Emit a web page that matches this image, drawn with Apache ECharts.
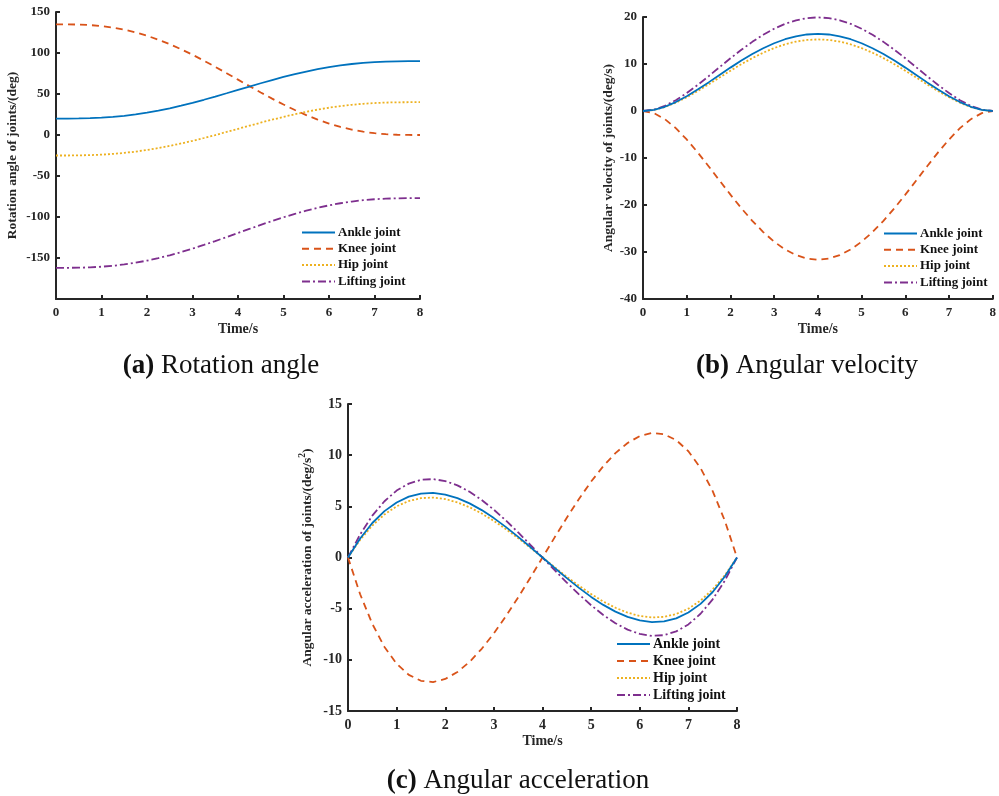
<!DOCTYPE html>
<html>
<head>
<meta charset="utf-8">
<script src="https://cdn.jsdelivr.net/npm/echarts@6/dist/echarts.min.js"></script>
<style>
html,body{margin:0;padding:0;background:#fff;}
#main{width:999px;height:796px;}
</style>
</head>
<body>
<div id="main"></div>
<script>
// Time samples (s)
const time = [0,0.25,0.5,0.75,1,1.25,1.5,1.75,2,2.25,2.5,2.75,3,3.25,3.5,3.75,4,
              4.25,4.5,4.75,5,5.25,5.5,5.75,6,6.25,6.5,6.75,7,7.25,7.5,7.75,8];
const seriesNames = ['Ankle joint','Knee joint','Hip joint','Lifting joint'];

// (a) Rotation angle (deg)
const angleAnkle = [20,20.02,20.16,20.50,21.12,22.08,23.41,25.13,27.25,29.74,32.60,35.79,39.26,42.98,46.88,50.91,55,
                    59.09,63.12,67.02,70.74,74.21,77.40,80.26,82.75,84.87,86.59,87.92,88.88,89.50,89.84,89.98,90];
const angleKnee = [135,134.96,134.70,134.04,132.83,130.98,128.42,125.10,121.03,116.21,110.70,104.55,97.85,90.68,83.16,75.39,67.5,
                   59.61,51.84,44.32,37.15,30.45,24.30,18.79,13.98,9.90,6.58,4.02,2.17,0.96,0.30,0.04,0];
const angleHip = [-25,-24.98,-24.86,-24.54,-23.96,-23.07,-21.83,-20.23,-18.27,-15.95,-13.30,-10.34,-7.11,-3.66,-0.04,3.70,7.5,
                  11.30,15.04,18.66,22.11,25.34,28.30,30.95,33.27,35.23,36.83,38.07,38.96,39.54,39.86,39.98,40];
const angleLifting = [-162,-161.98,-161.81,-161.39,-160.64,-159.47,-157.86,-155.77,-153.20,-150.17,-146.70,-142.83,-138.61,-134.10,-129.36,-124.47,-119.5,
                      -114.53,-109.64,-104.91,-100.39,-96.17,-92.30,-88.83,-85.80,-83.23,-81.15,-79.53,-78.36,-77.61,-77.19,-77.03,-77];

// (b) Angular velocity (deg/s)
const velAnkle = [0,0.24,0.90,1.90,3.14,4.56,6.09,7.67,9.23,10.73,12.12,13.36,14.42,15.27,15.90,16.28,16.41,
                  16.28,15.90,15.27,14.42,13.36,12.12,10.73,9.23,7.67,6.09,4.56,3.14,1.90,0.90,0.24,0];
const velKnee = [0,-0.46,-1.74,-3.65,-6.06,-8.80,-11.75,-14.79,-17.80,-20.69,-23.37,-25.76,-27.81,-29.46,-30.66,-31.39,-31.64,
                 -31.39,-30.66,-29.46,-27.81,-25.76,-23.37,-20.69,-17.80,-14.79,-11.75,-8.80,-6.06,-3.65,-1.74,-0.46,0];
const velHip = [0,0.22,0.84,1.76,2.92,4.24,5.66,7.12,8.57,9.96,11.25,12.40,13.39,14.18,14.76,15.12,15.23,
                15.12,14.76,14.18,13.39,12.40,11.25,9.96,8.57,7.12,5.66,4.24,2.92,1.76,0.84,0.22,0];
const velLifting = [0,0.29,1.09,2.30,3.81,5.54,7.40,9.31,11.21,13.03,14.71,16.22,17.51,18.55,19.30,19.77,19.92,
                    19.77,19.30,18.55,17.51,16.22,14.71,13.03,11.21,9.31,7.40,5.54,3.81,2.30,1.09,0.29,0];

// (c) Angular acceleration (deg/s^2)
const accAnkle = [0,1.86,3.37,4.53,5.38,5.95,6.25,6.31,6.15,5.80,5.29,4.63,3.85,2.97,2.02,1.02,0,
                  -1.02,-2.02,-2.97,-3.85,-4.63,-5.29,-5.80,-6.15,-6.31,-6.25,-5.95,-5.38,-4.53,-3.37,-1.86,0];
const accKnee = [0,-3.59,-6.49,-8.74,-10.38,-11.47,-12.05,-12.17,-11.87,-11.19,-10.20,-8.92,-7.42,-5.72,-3.89,-1.97,0,
                 1.97,3.89,5.72,7.42,8.92,10.20,11.19,11.87,12.17,12.05,11.47,10.38,8.74,6.49,3.59,0];
const accHip = [0,1.73,3.12,4.21,5.00,5.52,5.80,5.86,5.71,5.39,4.91,4.30,3.57,2.76,1.88,0.95,0,
                -0.95,-1.88,-2.76,-3.57,-4.30,-4.91,-5.39,-5.71,-5.86,-5.80,-5.52,-5.00,-4.21,-3.12,-1.73,0];
const accLifting = [0,2.26,4.09,5.50,6.54,7.22,7.59,7.66,7.47,7.05,6.42,5.62,4.67,3.60,2.45,1.24,0,
                    -1.24,-2.45,-3.60,-4.67,-5.62,-6.42,-7.05,-7.47,-7.66,-7.59,-7.22,-6.54,-5.50,-4.09,-2.26,0];

const colors = ['#0072BD','#D95319','#EDB120','#7E2F8E'];
const dashes = ['solid',[7,5],[2,2],[8,3,2,3]];
const FONT = 'Liberation Serif, Times New Roman, serif';
const AX = '#262626';

function pairs(arr){ return time.map((t,i)=>[t,arr[i]]); }

function xAxis(gi, fs){
  return {
    type:'value', gridIndex:gi, min:0, max:8, interval:1,
    name:'Time/s', nameLocation:'middle', nameGap:23,
    nameTextStyle:{fontFamily:FONT, fontWeight:'bold', fontSize:14, color:AX},
    axisLine:{onZero:false, lineStyle:{color:AX, width:2}},
    axisTick:{inside:true, length:4, lineStyle:{color:AX, width:2}},
    axisLabel:{fontFamily:FONT, fontWeight:'bold', fontSize:fs, color:AX, margin:7},
    splitLine:{show:false}
  };
}
function yAxis(gi, min, max, interval, name, gap, fs, hideMin){
  return {
    type:'value', gridIndex:gi, min:min, max:max, interval:interval,
    name:name, nameLocation:'middle', nameGap:gap,
    nameTextStyle:{fontFamily:FONT, fontWeight:'bold', fontSize:13.5, color:AX,
      rich:{sup:{fontFamily:FONT, fontWeight:'bold', fontSize:9.5, color:AX, padding:[0,0,9,0]}}},
    axisLine:{onZero:false, lineStyle:{color:AX, width:2}},
    axisTick:{inside:true, length:4, lineStyle:{color:AX, width:2}},
    axisLabel:{fontFamily:FONT, fontWeight:'bold', fontSize:fs, color:AX, margin:6,
      formatter:function(v){ return (hideMin && v===min) ? '' : String(v); }},
    splitLine:{show:false}
  };
}

const groups = [
  [angleAnkle, angleKnee, angleHip, angleLifting],
  [velAnkle, velKnee, velHip, velLifting],
  [accAnkle, accKnee, accHip, accLifting]
];
const series = [];
groups.forEach((g, gi)=>{
  g.forEach((arr, si)=>{
    series.push({
      type:'line', name:seriesNames[si], xAxisIndex:gi, yAxisIndex:gi,
      data:pairs(arr), smooth:false, symbol:'none', showSymbol:false,
      lineStyle:{color:colors[si], width:1.8, type:dashes[si]},
      itemStyle:{color:colors[si]}, z: 2 + (si===0?1:0)
    });
  });
});

function legend(left, top, fs, gap){
  return {
    data:seriesNames, orient:'vertical', left:left, top:top,
    itemWidth:33, itemHeight:10, itemGap:gap, padding:0,
    selectedMode:false,
    itemStyle:{opacity:0},
    textStyle:{fontFamily:FONT, fontWeight:'bold', fontSize:fs, color:'#111', padding:[0,0,0,-2]}
  };
}

const chart = echarts.init(document.getElementById('main'), null, {renderer:'canvas'});
chart.setOption({
  backgroundColor:'#ffffff',
  animation:false,
  grid:[
    {left:56, top:12, width:364, height:287},
    {left:643, top:17, width:355, height:282},
    {left:348, top:404, width:389, height:307}
  ],
  xAxis:[xAxis(0,13), xAxis(1,13), xAxis(2,14)],
  yAxis:[
    yAxis(0,-200,150,50,'Rotation angle of joints/(deg)',36,13,true),
    yAxis(1,-40,20,10,'Angular velocity of joints/(deg/s)',27,13,false),
    yAxis(2,-15,15,5,'Angular acceleration of joints/(deg/s{sup|2})',31,14,false)
  ],
  legend:[
    legend(301,226,13,3.3),
    legend(883,227,13,3.3),
    legend(616,637,14,3)
  ],
  series:series,
  graphic:[
    {type:'text', x:221, y:366, style:{text:'{b|(a)} Rotation angle', align:'center', verticalAlign:'middle',
      font:'27px '+FONT, fill:'#111', rich:{b:{fontWeight:'bold', fontSize:27, fontFamily:FONT, fill:'#111'}}}},
    {type:'text', x:807, y:366, style:{text:'{b|(b)} Angular velocity', align:'center', verticalAlign:'middle',
      font:'27px '+FONT, fill:'#111', rich:{b:{fontWeight:'bold', fontSize:27, fontFamily:FONT, fill:'#111'}}}},
    {type:'text', x:518, y:781, style:{text:'{b|(c)} Angular acceleration', align:'center', verticalAlign:'middle',
      font:'27px '+FONT, fill:'#111', rich:{b:{fontWeight:'bold', fontSize:27, fontFamily:FONT, fill:'#111'}}}}
  ]
});
</script>
</body>
</html>
